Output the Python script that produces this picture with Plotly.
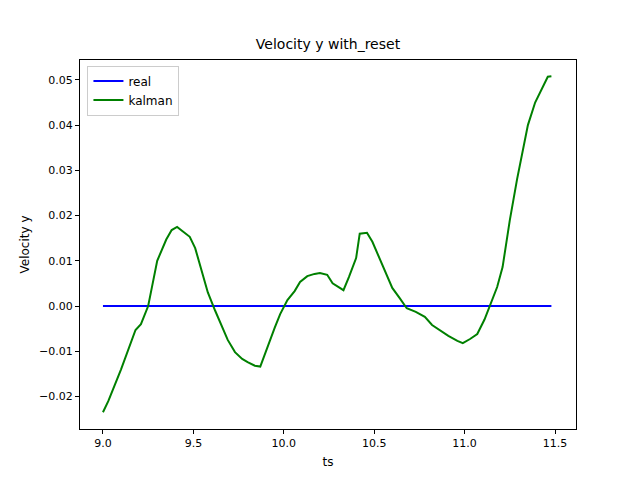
import plotly.graph_objects as go

ts = [9.0, 9.03, 9.1, 9.18, 9.21, 9.25, 9.27, 9.3, 9.35, 9.38, 9.41, 9.44, 9.48, 9.51,
      9.55, 9.58, 9.62, 9.66, 9.69, 9.73, 9.77, 9.8, 9.84, 9.87, 9.91, 9.95, 9.98,
      10.02, 10.06, 10.09, 10.13, 10.17, 10.2, 10.24, 10.27, 10.33, 10.36, 10.4,
      10.42, 10.46, 10.49, 10.53, 10.57, 10.6, 10.64, 10.68, 10.73, 10.78, 10.82,
      10.87, 10.91, 10.96, 10.99, 11.03, 11.07, 11.11, 11.14, 11.18, 11.21, 11.25,
      11.29, 11.32, 11.35, 11.39, 11.43, 11.46, 11.48]
kalman = [-0.0235, -0.021, -0.014, -0.0053, -0.004, 0.0, 0.004, 0.010, 0.0147, 0.0168,
          0.0175, 0.0166, 0.0153, 0.0128, 0.0075, 0.003, -0.001, -0.0047, -0.0075,
          -0.0102, -0.0117, -0.0124, -0.0132, -0.0134, -0.009, -0.0048, -0.0018,
          0.0013, 0.0033, 0.0053, 0.0066, 0.0071, 0.0073, 0.0069, 0.005, 0.0035,
          0.0064, 0.0106, 0.016, 0.0162, 0.0142, 0.0106, 0.0071, 0.004, 0.0018,
          -0.0005, -0.0013, -0.0024, -0.0042, -0.0055, -0.0066, -0.0077, -0.0082,
          -0.0073, -0.0062, -0.003, 0.0, 0.0042, 0.0086, 0.019, 0.028, 0.034, 0.040,
          0.045, 0.0483, 0.0507, 0.0508]
real = [0.0] * len(ts)

fig = go.Figure()
fig.add_trace(go.Scatter(x=ts, y=real, mode="lines", name="real",
                         line=dict(color="#0000ff", width=2)))
fig.add_trace(go.Scatter(x=ts, y=kalman, mode="lines", name="kalman",
                         line=dict(color="#008000", width=2)))

axis = dict(showline=True, linecolor="black", linewidth=1, mirror=True,
            ticks="outside", ticklen=4, tickcolor="black", showgrid=False,
            zeroline=False, tickfont=dict(size=11, color="black"))
fig.update_layout(
    width=640, height=480, paper_bgcolor="white", plot_bgcolor="white",
    margin=dict(l=72, r=72, t=52, b=59),
    font=dict(family="DejaVu Sans", size=12, color="black"),
    title=dict(text="Velocity y with_reset", x=(72 + 568) / 2 / 640, xanchor="center",
               y=1 - 41 / 480, yanchor="bottom", font=dict(size=14)),
    xaxis=dict(axis, range=[8.873, 11.616], tickvals=[9.0, 9.5, 10.0, 10.5, 11.0, 11.5],
               ticktext=["9.0", "9.5", "10.0", "10.5", "11.0", "11.5"],
               title=dict(text="ts", font=dict(size=12), standoff=8)),
    yaxis=dict(axis, range=[-0.0272, 0.0544], tickformat=".2f",
               tickvals=[-0.02, -0.01, 0, 0.01, 0.02, 0.03, 0.04, 0.05],
               title=dict(text="Velocity y", font=dict(size=12), standoff=6)),
    legend=dict(x=0.015, y=0.985, xanchor="left", yanchor="top",
                bordercolor="#cccccc", borderwidth=1, bgcolor="white",
                font=dict(size=12)),
)
fig.write_html("out.html")
